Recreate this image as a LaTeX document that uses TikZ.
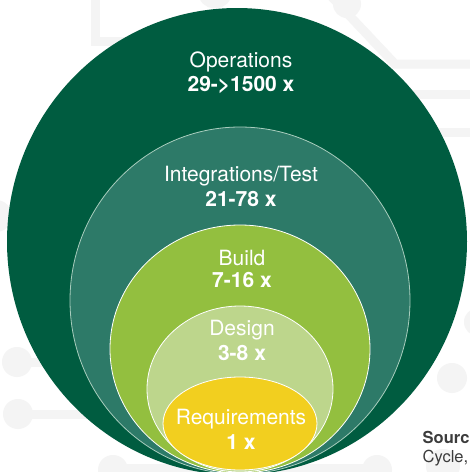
\documentclass[tikz,border=0pt]{standalone}
\usepackage{fontspec}
\setmainfont{TeX Gyre Heros}
\definecolor{opgreen}{HTML}{005C40}
\definecolor{itgreen}{HTML}{2D7A68}
\definecolor{itline}{HTML}{A9CDBE}
\definecolor{bdgreen}{HTML}{93BF3F}
\definecolor{dsgreen}{HTML}{BDD68C}
\definecolor{rqyellow}{HTML}{F2CF1F}
\definecolor{trace}{HTML}{F4F4F4}
\definecolor{srcgrey}{HTML}{3C3C3C}
\tikzset{
  lbl/.style={text=white, align=center, inner sep=0pt, font=\fontsize{21}{25}\selectfont},
  val/.style={text=white, align=center, inner sep=0pt, font=\fontsize{21}{25}\selectfont\bfseries},
  tr/.style={draw=trace, line width=9pt},
  pad/.style={fill=trace},
  srctext/.style={text=srcgrey, anchor=base west, inner sep=0pt, font=\fontsize{16.5}{19}\selectfont}
}
\begin{document}
\begin{tikzpicture}[x=1pt,y=-1pt]
\useasboundingbox (0,0) rectangle (470,472);
\fill[white] (0,0) rectangle (470,472);
% faint circuit traces in the background
\draw[tr] (95,-5) -- (95,41) -- (220,41);
\draw[tr] (215,-9) circle[radius=13pt];
\fill[pad] (347,4) circle[radius=14pt];
\draw[tr] (330,-5) -- (395,64) -- (475,64);
\draw[tr] (400,94) -- (475,94);
\draw[tr] (400,132) -- (475,132);
\fill[pad] (-4,216) circle[radius=16pt];
\fill[pad] (17,362) circle[radius=15pt];
\draw[tr] (17,362) -- (60,362);
\fill[pad] (18,414) circle[radius=15pt];
\draw[tr] (18,414) -- (100,414);
\fill[pad] (113,470) circle[radius=15pt];
\draw[tr] (113,468) -- (380,468);
\fill[pad] (377,470) circle[radius=15pt];
\fill[pad] (443,466) circle[radius=17pt];
\fill[pad] (452,378) circle[radius=15pt];
\fill[pad] (478,322) circle[radius=14pt];
% nested stages
\fill[opgreen] (237,241.5) ellipse[x radius=230pt, y radius=233.5pt];
\filldraw[fill=itgreen, draw=itline, line width=0.8pt] (240,300.5) ellipse[x radius=170pt, y radius=173.5pt];
\filldraw[fill=bdgreen, draw=white, line width=0.8pt] (240,349) ellipse[x radius=130pt, y radius=124pt];
\filldraw[fill=dsgreen, draw=white, line width=0.8pt] (240,389) ellipse[x radius=93pt, y radius=83pt];
\filldraw[fill=rqyellow, draw=white, line width=0.8pt] (240,423.5) ellipse[x radius=77pt, y radius=46.5pt];
% labels
\node[lbl] (ops) at (241,62) {Operations};
\node[val] (opsv) at (241,85) {29->1500 x};
\node[lbl] (int) at (241,176) {Integrations/Test};
\node[val] (intv) at (241,199) {21-78 x};
\node[lbl] (bld) at (242,258) {Build};
\node[val] (bldv) at (242,280) {7-16 x};
\node[lbl] (dsg) at (242,330) {Design};
\node[val] (dsgv) at (242,353) {3-8 x};
\node[lbl] (req) at (241,419) {Requirements};
\node[val] (reqv) at (241,442) {1 x};
% source note (cut at the edge)
\node[srctext] (src) at (422.5,443) {\bfseries Sourc};
\node[srctext] (cyc) at (422.5,462) {Cycle,};
\end{tikzpicture}
\end{document}
